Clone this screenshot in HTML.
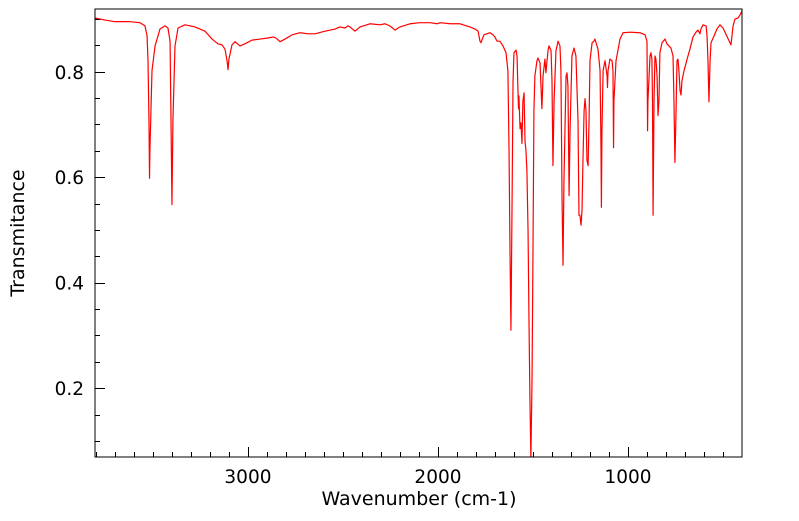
<!DOCTYPE html>
<html><head><meta charset="utf-8"><style>
html,body{margin:0;padding:0;background:#fff;}
svg text{font-family:"DejaVu Sans","Liberation Sans",sans-serif;fill:#000;}
</style></head><body>
<svg id="chart" width="799" height="516" viewBox="0 0 799 516" xmlns="http://www.w3.org/2000/svg">
<defs><clipPath id="plotclip"><rect x="95" y="9" width="647" height="448"/></clipPath></defs>
<rect x="0" y="0" width="799" height="516" fill="#fff"/>
<g id="ticks"></g>
<path id="spectrum" fill="none" stroke="#ff0000" stroke-width="1.2" stroke-linejoin="round" clip-path="url(#plotclip)"/>
<rect x="95" y="9" width="647" height="448" fill="none" stroke="#000" stroke-width="1"/>
<text x="419" y="505" font-size="19" text-anchor="middle">Wavenumber (cm-1)</text>
<text x="0" y="0" font-size="19" text-anchor="middle" transform="translate(24,233) rotate(-90)">Transmitance</text>
</svg>
<script>
const wavenumbers=[3805,3752,3700,3621,3568,3542,3531,3526,3521,3518,3516,3505,3489,3463,3437,3421,3410,3405,3400,3395,3384,3368,3331,3279,3226,3189,3158,3137,3121,3110,3105,3100,3084,3068,3042,3016,2979,2937,2895,2868,2852,2831,2805,2768,2726,2684,2647,2595,2542,2516,2489,2474,2463,2437,2410,2358,2305,2279,2253,2226,2200,2147,2095,2042,2005,1989,1937,1884,1832,1805,1789,1779,1774,1758,1726,1710,1700,1695,1689,1674,1658,1642,1632,1626,1621,1616,1610,1605,1600,1589,1584,1579,1576,1574,1568,1563,1558,1553,1547,1542,1537,1532,1526,1521,1516,1511,1505,1500,1495,1490,1479,1474,1463,1453,1447,1437,1432,1421,1416,1405,1400,1395,1389,1379,1368,1358,1353,1347,1342,1337,1326,1321,1316,1310,1305,1295,1284,1274,1263,1258,1253,1247,1242,1237,1231,1226,1221,1216,1210,1205,1200,1189,1179,1174,1158,1147,1142,1140,1137,1131,1121,1110,1108,1105,1095,1084,1079,1076,1074,1063,1053,1042,1026,989,937,910,900,897,895,884,879,874,871,868,863,858,853,847,842,837,832,821,805,795,774,763,758,753,747,742,737,732,726,721,716,705,689,674,658,642,632,621,616,605,589,584,579,574,568,563,547,532,516,500,458,447,437,421,410,400];
const transmittance=[.902,.898,.895,.895,.893,.887,.868,.821,.707,.598,.651,.802,.849,.881,.887,.883,.858,.707,.548,.707,.849,.883,.889,.885,.877,.862,.853,.851,.843,.821,.804,.824,.851,.857,.849,.853,.860,.862,.864,.866,.864,.857,.862,.870,.874,.872,.872,.877,.881,.885,.883,.887,.885,.877,.885,.891,.889,.891,.887,.879,.885,.891,.893,.893,.891,.893,.891,.891,.885,.881,.877,.858,.855,.870,.874,.870,.866,.862,.858,.858,.849,.836,.802,.651,.461,.310,.556,.783,.836,.841,.830,.764,.730,.754,.692,.703,.664,.745,.760,.669,.651,.613,.499,.329,.178,.065,.216,.461,.726,.792,.821,.826,.817,.730,.792,.824,.798,.840,.849,.840,.783,.622,.745,.840,.858,.849,.802,.556,.433,.594,.792,.798,.773,.565,.688,.830,.845,.830,.707,.528,.528,.509,.537,.632,.726,.749,.726,.632,.622,.707,.821,.855,.858,.862,.843,.802,.651,.543,.688,.802,.821,.792,.770,.802,.824,.821,.802,.656,.745,.821,.840,.862,.874,.875,.874,.870,.858,.688,.745,.830,.836,.824,.745,.528,.745,.830,.824,.792,.717,.745,.836,.855,.862,.853,.845,.830,.745,.628,.726,.821,.824,.802,.764,.756,.783,.802,.824,.843,.866,.875,.879,.872,.881,.889,.887,.868,.821,.743,.821,.855,.868,.881,.889,.883,.851,.887,.900,.902,.908,.915];
const xMajorTicks=[1000,2000,3000];
const xMajorLabels=["1000","2000","3000"];
const yMajorTicks=[0.2,0.4,0.6,0.8];
const yMajorLabels=["0.2","0.4","0.6","0.8"];

const X0=95,X1=742,Y0=9,Y1=457;
const WN_MAX=3805,WN_MIN=400,T_MIN=0.0695,T_MAX=0.919;
function xScale(w){return X0+(WN_MAX-w)/(WN_MAX-WN_MIN)*(X1-X0);}
function yScale(t){return Y1-(t-T_MIN)/(T_MAX-T_MIN)*(Y1-Y0);}

let d='';
for(let i=0;i<wavenumbers.length;i++){
  d+=(i?'L':'M')+xScale(wavenumbers[i]).toFixed(2)+','+yScale(transmittance[i]).toFixed(2);
}
document.getElementById('spectrum').setAttribute('d',d);

const NS='http://www.w3.org/2000/svg';
const g=document.getElementById('ticks');
function line(x1,y1,x2,y2){
  const l=document.createElementNS(NS,'line');
  l.setAttribute('x1',x1);l.setAttribute('y1',y1);l.setAttribute('x2',x2);l.setAttribute('y2',y2);
  l.setAttribute('stroke','#000');l.setAttribute('stroke-width','1');
  
  
  g.appendChild(l);
}
function text(x,y,s,anchor){
  const t=document.createElementNS(NS,'text');
  t.setAttribute('x',x);t.setAttribute('y',y);t.setAttribute('font-size','18.5');t.setAttribute('text-anchor',anchor);
  t.textContent=s;
  
  
  g.appendChild(t);
}
for(let w=500;w<=3800;w+=100){
  const x=Math.round(xScale(w))+0.5;
  const major=w%1000===0;
  line(x,Y1,x,Y1-(major?10:5));
}
xMajorTicks.forEach((w,i)=>{text(xScale(w),483,xMajorLabels[i],'middle');});
for(let k=2;k<=18;k++){
  const t=k*0.05;
  const y=Math.round(yScale(t))+0.5;
  const major=k%4===0;
  line(X0,y,X0+(major?10:5),y);
}
yMajorTicks.forEach((t,i)=>{text(84,yScale(t)+7,yMajorLabels[i],'end');});
</script>
</body></html>
